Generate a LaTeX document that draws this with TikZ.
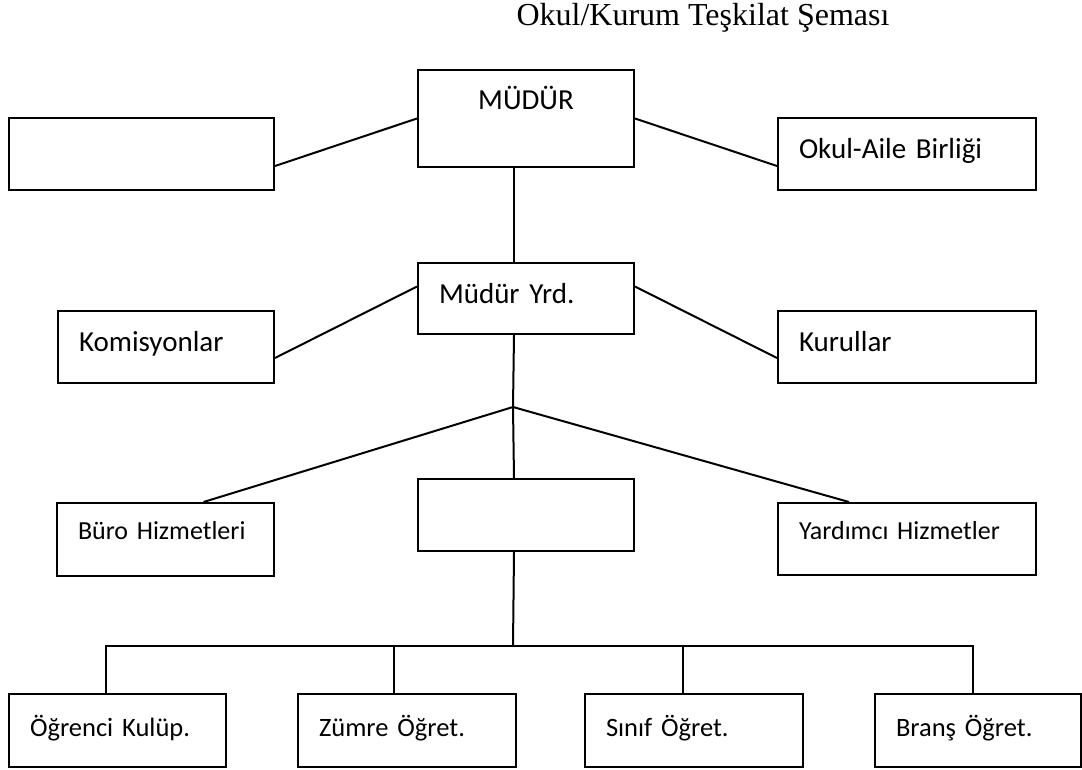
\documentclass[tikz,border=0pt]{standalone}
\usepackage{fontspec}
\setmainfont{Liberation Serif}
\newfontfamily\kutufont{Carlito}
\usepackage{tikz}
\usetikzlibrary{positioning}

\begin{document}
\begin{tikzpicture}[
                  x=1pt, y=-1pt,
                  line width=2pt,
                  box/.style={draw, anchor=north west, inner xsep=21pt, inner ysep=0pt,
                              align=left, text height=40pt, text depth=32pt,
                              font=\kutufont\fontsize{29pt}{34pt}\selectfont},
                  small/.style={font=\kutufont\fontsize{26pt}{31pt}\selectfont},
                  lower/.style={font=\kutufont\fontsize{26.5pt}{31pt}\selectfont,
                              text height=42pt, text depth=31pt},
                  title/.style={anchor=base, inner sep=0pt,
                              font=\fontsize{32pt}{38pt}\selectfont},
            ]
            \useasboundingbox (0,0) rectangle (1082,769);
            \node[title] (baslik) at (703,25) {Okul/Kurum Teşkilat Şeması};

            % ust seviye
            \node[box, text width=174pt, align=center, text height=39pt, text depth=58pt]
                  (mudur) at (417,69) {MÜDÜR};
            \node[box, text width=223pt] (bos1) at (8,117) {};
            \node[box, text width=216pt] (aile) at (777,117) {Okul-Aile Birliği};

            % yardimci seviye
            \node[box, text width=174pt, text depth=31pt] (yrd) at (417,262) {Müdür Yrd.};
            \node[box, text width=174pt] (komisyon) at (57,310) {Komisyonlar};
            \node[box, text width=216pt] (kurul) at (777,310) {Kurullar};

            % hizmetler
            \node[box, small, text width=175pt, text height=36pt, text depth=37pt]
                  (buro) at (56,502) {Büro Hizmetleri};
            \node[box, text width=174pt] (bos2) at (417,478) {};
            \node[box, small, text width=216pt, text height=36pt, text depth=36pt]
                  (yardimci) at (777,502) {Yardımcı Hizmetler};

            % ogretmenler
            \node[box, lower, text width=175pt] (ogrenci) at (8,693) {Öğrenci Kulüp.};
            \node[box, lower, text width=176pt] (zumre) at (297,693) {Zümre Öğret.};
            \node[box, lower, text width=176pt] (sinif) at (584,693) {Sınıf Öğret.};
            \node[box, lower, text width=164pt] (brans) at (874,693) {Branş Öğret.};

            \coordinate (dal) at (513,407);
            \coordinate (hat) at (513,646);

            \draw ([yshift=-12pt]bos1.east) -- (mudur.west);
            \draw (mudur.east) -- ([yshift=-12pt]aile.west);
            \draw ([xshift=-12pt]mudur.south) -- ([xshift=-12pt]yrd.north);
            \draw ([yshift=-11pt]komisyon.east) -- ([yshift=12pt]yrd.west);
            \draw ([yshift=12pt]yrd.east) -- ([yshift=-11pt]kurul.west);
            \draw ([xshift=-12pt]yrd.south) -- (dal);
            \draw (dal) -- ([xshift=38pt]buro.north);
            \draw (dal) -- ([xshift=-12pt]bos2.north);
            \draw (dal) -- ([xshift=-58pt]yardimci.north);
            \draw ([xshift=-12pt]bos2.south) -- (hat);
            \draw ([xshift=-11.5pt]ogrenci.north) |- (hat) -| ([xshift=-5pt]brans.north);
            \draw ([xshift=-13pt]zumre.north) -- ([xshift=-13pt]zumre.north |- hat);
            \draw ([xshift=-11pt]sinif.north) -- ([xshift=-11pt]sinif.north |- hat);
      \end{tikzpicture}
\end{document}
